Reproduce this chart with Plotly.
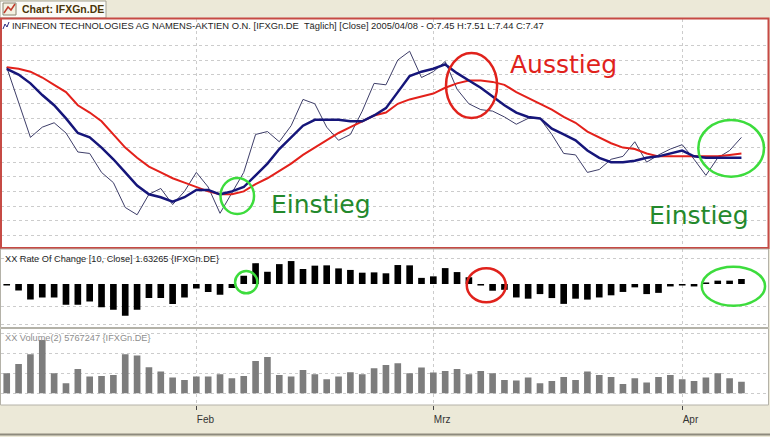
import pandas as pd
import plotly.graph_objects as go

W, H = 770, 437

# trading days (Xetra), 10 Jan - 8 Apr 2005, Good Friday / Easter Monday closed
dates = pd.bdate_range(
    "2005-01-10", "2005-04-08", freq="C", holidays=["2005-03-25", "2005-03-28"]
).strftime("%Y-%m-%d").tolist()

close = [7.95, 7.71, 7.47, 7.54, 7.57, 7.50, 7.37, 7.36, 7.23, 7.16,
         6.99, 6.94, 7.08, 7.12, 7.01, 7.10, 7.23, 7.13, 6.95, 7.09,
         7.23, 7.49, 7.51, 7.44, 7.55, 7.73, 7.70, 7.54, 7.45, 7.49,
         7.65, 7.84, 7.83, 8.00, 8.06, 7.88, 7.92, 7.99, 7.80, 7.70,
         7.66, 7.65, 7.61, 7.56, 7.60, 7.60, 7.49, 7.36, 7.35, 7.23,
         7.25, 7.32, 7.34, 7.44, 7.30, 7.35, 7.39, 7.42, 7.32, 7.21,
         7.33, 7.38, 7.47]
avg_fast = [7.94, 7.90, 7.84, 7.76, 7.69, 7.60, 7.50, 7.47, 7.40, 7.32,
            7.23, 7.14, 7.08, 7.06, 7.03, 7.06, 7.11, 7.11, 7.08, 7.10,
            7.13, 7.21, 7.29, 7.39, 7.47, 7.55, 7.59, 7.59, 7.59, 7.58,
            7.58, 7.62, 7.67, 7.78, 7.89, 7.92, 7.94, 7.97, 7.91, 7.86,
            7.81, 7.75, 7.69, 7.64, 7.61, 7.60, 7.53, 7.49, 7.45, 7.38,
            7.33, 7.30, 7.30, 7.31, 7.33, 7.34, 7.36, 7.38, 7.34, 7.33,
            7.33, 7.33, 7.33]
avg_slow = [7.95, 7.94, 7.92, 7.88, 7.83, 7.78, 7.69, 7.64, 7.58, 7.49,
            7.40, 7.33, 7.27, 7.23, 7.19, 7.16, 7.13, 7.10, 7.08, 7.08,
            7.10, 7.15, 7.19, 7.24, 7.29, 7.35, 7.40, 7.45, 7.50, 7.54,
            7.58, 7.62, 7.64, 7.70, 7.73, 7.75, 7.77, 7.81, 7.84, 7.86,
            7.86, 7.85, 7.83, 7.78, 7.74, 7.70, 7.66, 7.61, 7.57, 7.51,
            7.47, 7.43, 7.40, 7.39, 7.36, 7.34, 7.34, 7.34, 7.34, 7.34,
            7.34, 7.35, 7.36]
roc = [-0.5, -2.1, -5.1, -4.4, -4.4, -6.8, -6.8, -5.7, -7.6, -8.4,
       -10.4, -8.4, -4.6, -4.6, -6.5, -4.4, -1.5, -2.6, -3.5, -1.3,
       2.7, 6.8, 4.0, 6.5, 7.5, 4.9, 6.0, 6.1, 5.1, 4.6,
       3.7, 3.8, 3.5, 6.2, 6.1, 2.0, 2.5, 5.2, 3.9, 2.2,
       -0.5, -2.2, -1.9, -4.4, -4.8, -3.3, -4.6, -6.5, -4.8, -5.1,
       -4.4, -3.7, -2.6, -1.1, -3.3, -2.9, -0.8, -0.5, -0.8, 0.5,
       1.1, 1.1, 1.63265]
volume = [10.0, 14.7, 19.5, 26.7, 10.0, 5.0, 12.2, 8.4, 8.7, 9.2,
          19.5, 18.9, 13.0, 10.9, 7.9, 6.7, 8.4, 8.4, 9.5, 7.5,
          8.7, 16.2, 18.2, 9.2, 8.4, 11.7, 9.5, 7.0, 8.4, 10.5,
          9.5, 12.5, 14.2, 15.0, 10.0, 12.9, 10.4, 11.2, 12.2, 9.5,
          11.2, 10.0, 6.7, 6.4, 7.9, 5.0, 6.2, 8.2, 6.7, 10.9,
          9.2, 8.2, 4.7, 7.5, 5.4, 8.2, 9.2, 7.0, 6.2, 7.9,
          10.0, 7.5, 5.77]  # millions

month_ticks = ["2005-02-01", "2005-03-01", "2005-04-01"]
month_labels = ["Feb", "Mrz", "Apr"]
price_grid = [6.8, 6.9, 7.0, 7.1, 7.2, 7.3, 7.4, 7.5, 7.6, 7.7, 7.8, 7.9, 8.0, 8.1]
roc_grid = [8.5, -7.4, -13.1]
volume_grid = [0, 10, 20, 30]

SMALL = "Liberation Sans, Arial, sans-serif"
BIG = "DejaVu Sans, Verdana, sans-serif"
GRID = "#cccccc"


def px(x):
    return x / W


def py(y):
    return 1 - y / H


def rows(top, bottom):
    return [py(bottom), py(top)]


# pixel calibration of the three panes
price_range = [7.5 - (248 - 133) / 146, 7.5 + (133 - 19) / 146]
roc_range = [-(327 - 284) * 0.327, (284 - 249) * 0.327]
vol_range = [-(405 - 393.3) * 0.5, (393.3 - 328) * 0.5]
x_range = [-0.5, 64.24]

fig = go.Figure()
fig.add_trace(go.Scatter(x=dates, y=close, mode="lines", line={"color": "#3d3d68", "width": 1},
                         xaxis="x", yaxis="y"))
fig.add_trace(go.Scatter(x=dates, y=avg_slow, mode="lines", line={"color": "#e3211b", "width": 2},
                         xaxis="x", yaxis="y"))
fig.add_trace(go.Scatter(x=dates, y=avg_fast, mode="lines", line={"color": "#16167a", "width": 2.5},
                         xaxis="x", yaxis="y"))
fig.add_trace(go.Bar(x=dates, y=roc, marker={"color": "#000000", "line": {"width": 0}}, width=0.56,
                     xaxis="x2", yaxis="y2"))
fig.add_trace(go.Bar(x=dates, y=volume, marker={"color": "#7d7d7d", "line": {"width": 0}}, width=0.56,
                     xaxis="x3", yaxis="y3"))

xcommon = dict(
    type="category", domain=[px(0.8), px(768)], range=x_range, automargin=False,
    tickvals=month_ticks, ticktext=month_labels, showgrid=True,
    gridcolor=GRID, griddash="dot", gridwidth=1, zeroline=False, fixedrange=True,
)
ycommon = dict(showticklabels=False, showgrid=True, gridcolor=GRID, griddash="dot", automargin=False,
               zeroline=False, ticks="", fixedrange=True)

fig.update_layout(
    width=W, height=H, margin={"l": 0, "r": 0, "t": 0, "b": 0},
    paper_bgcolor="#ece9d8", plot_bgcolor="#ffffff", showlegend=False,
    bargap=0.44,
    xaxis=dict(xcommon, anchor="y", showticklabels=False, ticks=""),
    xaxis2=dict(xcommon, anchor="y2", showticklabels=False, ticks=""),
    xaxis3=dict(xcommon, anchor="y3", showticklabels=True, ticks="outside", ticklen=4,
                tickcolor="#444444", ticklabelposition="outside right", ticklabelstandoff=5,
                tickfont={"family": SMALL, "size": 10, "color": "#333333"}),
    yaxis=dict(ycommon, domain=rows(19, 248), range=price_range, tickvals=price_grid, anchor="x"),
    yaxis2=dict(ycommon, domain=rows(249, 327), range=roc_range, tickvals=roc_grid, anchor="x2"),
    yaxis3=dict(ycommon, domain=rows(328, 405), range=vol_range, tickvals=volume_grid, anchor="x3"),
)

# window chrome: tab strip and pane frames
fig.add_shape(type="rect", xref="paper", yref="paper", x0=px(0), x1=px(106), y0=py(18), y1=py(1),
              fillcolor="#fbfbf7", line={"color": "#a5a293", "width": 1})
fig.add_shape(type="rect", xref="paper", yref="paper", x0=px(3), x1=px(16), y0=py(15), y1=py(3),
              fillcolor="#f4f1e2", line={"color": "#8a8470", "width": 1})
icon = "M {} {} L {} {} L {} {} L {} {}".format(px(4), py(13), px(8), py(7), px(11), py(10), px(15), py(4))
fig.add_shape(type="path", xref="paper", yref="paper", path=icon, line={"color": "#c0392b", "width": 1.5})
small = "M {} {} L {} {} L {} {} L {} {}".format(px(3), py(29), px(5), py(24), px(7), py(27), px(9), py(22))
fig.add_shape(type="path", xref="paper", yref="paper", path=small, line={"color": "#2c2c80", "width": 1})
fig.add_shape(type="rect", xref="paper", yref="paper", x0=px(1), x1=px(768.5), y0=py(248), y1=py(18.5),
              line={"color": "#c64a44", "width": 2})
for top, bottom in [(249, 327.5), (328.5, 405)]:
    fig.add_shape(type="rect", xref="paper", yref="paper", x0=px(0.5), x1=px(768.5),
                  y0=py(bottom), y1=py(top), line={"color": "#b4b2a8", "width": 1})
fig.add_shape(type="line", xref="paper", yref="paper", x0=0, x1=1, y0=py(434.5), y1=py(434.5),
              line={"color": "#8d8a7d", "width": 2})

# signal markers
rings = [
    ("x", "y", 18.04, 20.87, 6.945, 7.192, "#3ddc3d"),
    ("x", "y", 37.07, 41.38, 7.603, 8.048, "#e0221c"),
    ("x", "y", 58.36, 63.90, 7.201, 7.589, "#3ddc3d"),
    ("x2", "y2", 19.27, 21.15, -3.04, 4.25, "#3ddc3d"),
    ("x2", "y2", 38.82, 42.11, -5.98, 5.13, "#e0221c"),
    ("x2", "y2", 58.65, 63.99, -7.10, 5.66, "#3ddc3d"),
]
for xr, yr, x0, x1, y0, y1, color in rings:
    fig.add_shape(type="circle", xref=xr, yref=yr, x0=x0, x1=x1, y0=y0, y1=y1,
                  line={"color": color, "width": 2.5})

labels = [
    ("Ausstieg", 42.3, 7.966, "#e0221c"),
    ("Einstieg", 22.1, 7.007, "#23892c"),
    ("Einstieg", 54.0, 6.938, "#23892c"),
]
for text, x, y, color in labels:
    fig.add_annotation(text=text, x=x, y=y, xref="x", yref="y", xanchor="left", yanchor="middle",
                       showarrow=False, font={"family": BIG, "size": 25, "color": color})

captions = [
    ("<b>Chart: IFXGn.DE</b>", 20, 9.5, {"family": SMALL, "size": 10.5, "color": "#4b3608"}),
    ("INFINEON TECHNOLOGIES AG NAMENS-AKTIEN O.N. [IFXGn.DE  Täglich] [Close] 2005/04/08 - "
     "O:7.45 H:7.51 L:7.44 C:7.47", 10, 25.5, {"family": SMALL, "size": 9.4, "color": "#1e1e1e"}),
    ("XX Rate Of Change [10, Close] 1.63265 {IFXGn.DE}", 3, 259, {"family": SMALL, "size": 9.2,
                                                                "color": "#1e1e1e"}),
    ("XX Volume(2) 5767247 {IFXGn.DE}", 3, 337.5, {"family": SMALL, "size": 9.2, "color": "#8e8e8e"}),
]
for text, x, y, font in captions:
    fig.add_annotation(text=text, x=px(x), y=py(y), xref="paper", yref="paper", xanchor="left",
                       yanchor="middle", showarrow=False, font=font)

# the page body has a default 8px margin; drop it so the figure sits at the window origin
fig.write_html(
    "out.html",
    config={"displayModeBar": False, "staticPlot": True},
    post_script="document.body.style.margin='0';document.body.style.overflow='hidden';",
)
